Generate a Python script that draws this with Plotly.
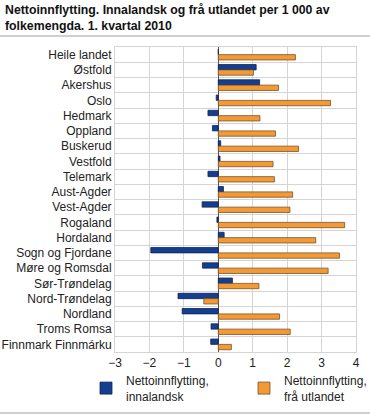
import plotly.graph_objects as go

categories = ["Heile landet", "Østfold", "Akershus", "Oslo", "Hedmark", "Oppland",
              "Buskerud", "Vestfold", "Telemark", "Aust-Agder", "Vest-Agder",
              "Rogaland", "Hordaland", "Sogn og Fjordane", "Møre og Romsdal",
              "Sør-Trøndelag", "Nord-Trøndelag", "Nordland", "Troms Romsa",
              "Finnmark Finnmárku"]
innalandsk = [0.0, 1.10, 1.20, -0.06, -0.30, -0.17, 0.07, 0.05, -0.30, 0.15, -0.47,
              -0.04, 0.17, -1.96, -0.46, 0.41, -1.17, -1.05, -0.21, -0.22]
utlandet = [2.24, 1.02, 1.75, 3.26, 1.21, 1.66, 2.33, 1.59, 1.63, 2.16, 2.08,
            3.67, 2.83, 3.52, 3.19, 1.18, -0.42, 1.78, 2.09, 0.38]
x_ticks = [-3, -2, -1, 0, 1, 2, 3, 4]
title = "Nettoinnflytting. Innalandsk og frå utlandet per 1 000 av<br>folkemengda. 1. kvartal 2010"

W, H = 370, 415
L, R, T, B = 115, 14, 47, 63
pw, ph = W - L - R, H - T - B

def px_x(x):
    return (x - L) / pw

def px_y(y):
    return (H - B - y) / ph

font = "Liberation Sans, Arial, sans-serif"

fig = go.Figure()
fig.add_trace(go.Bar(y=categories, x=innalandsk, orientation="h",
                     name="Nettoinnflytting,<br>innalandsk",
                     marker=dict(color="#163e8e", line=dict(color="#0d2456", width=0.8))))
fig.add_trace(go.Bar(y=categories, x=utlandet, orientation="h",
                     name="Nettoinnflytting,<br>frå utlandet",
                     marker=dict(color="#f39a37", line=dict(color="#7a5226", width=0.8))))

fig.update_layout(
    width=W, height=H,
    margin=dict(l=L, r=R, t=T, b=B, autoexpand=False),
    paper_bgcolor="white", plot_bgcolor="white",
    font=dict(family=font, size=12, color="#222"),
    barmode="group", bargap=0.3, bargroupgap=0,
    showlegend=True,
    legend=dict(orientation="h", x=px_x(86), y=px_y(366), xanchor="left", yanchor="top",
                font=dict(size=12, color="#222"), traceorder="normal",
                entrywidth=113, entrywidthmode="pixels", itemwidth=30,
                bgcolor="rgba(0,0,0,0)"),
    xaxis=dict(range=[-3, 4], tickvals=x_ticks, showgrid=True, gridcolor="#d4d4d4",
               zeroline=True, zerolinecolor="#555", zerolinewidth=1,
               showline=True, linecolor="#d4d4d4", mirror=True, ticks="",
               tickfont=dict(size=12, color="#222"), fixedrange=True),
    yaxis=dict(type="category", autorange="reversed", tickson="boundaries",
               tickmode="array", tickvals=categories,
               showgrid=True, gridcolor="#d4d4d4", ticks="",
               showline=True, linecolor="#d4d4d4", mirror=True,
               tickfont=dict(size=12, color="#222"), fixedrange=True),
    annotations=[dict(text="<b>" + title + "</b>", xref="paper", yref="paper",
                      x=px_x(3), y=px_y(1), xanchor="left", yanchor="top",
                      align="left", showarrow=False,
                      font=dict(family=font, size=12.3, color="#111"))],
    shapes=[
        dict(type="line", xref="paper", yref="paper", x0=px_x(0), x1=px_x(370),
             y0=px_y(36), y1=px_y(36), line=dict(color="#d0d0d0", width=2)),
        dict(type="line", xref="paper", yref="paper", x0=px_x(0), x1=px_x(370),
             y0=px_y(413), y1=px_y(413), line=dict(color="#d0d0d0", width=2)),
    ],
)

fig.write_html("out.html", config={"displayModeBar": False},
               post_script="document.body.style.margin='0';document.body.style.overflow='hidden';")
